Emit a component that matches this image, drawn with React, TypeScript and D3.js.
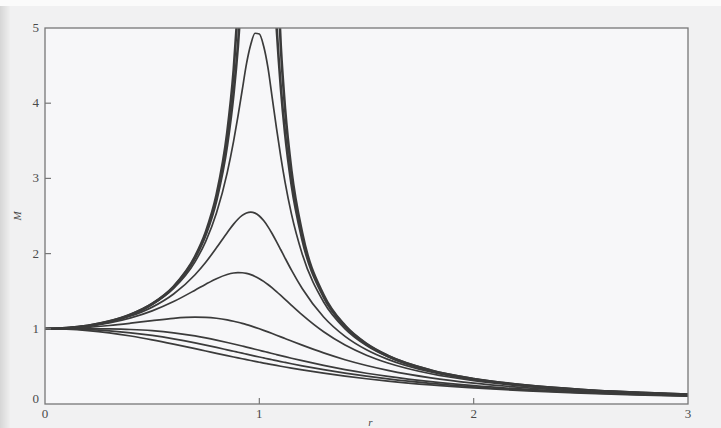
import React from "react";
import * as d3 from "d3";

// frequency ratio r (shared grid)
const rValues = [0, 0.1, 0.2, 0.3, 0.4, 0.5, 0.6, 0.7, 0.75, 0.8, 0.85, 0.88, 0.9, 0.92, 0.94, 0.96, 0.98, 1.0, 1.02, 1.04, 1.06, 1.08, 1.1, 1.12, 1.15, 1.2, 1.3, 1.4, 1.5, 1.6, 1.8, 2.0, 2.25, 2.5, 2.75, 3.0];

// magnification M read for each curve (null = off the top of the chart)
const mZeta0 = [1, 1.0101, 1.0417, 1.0989, 1.1905, 1.3333, 1.5625, 1.9608, 2.2857, 2.7778, 3.6036, 4.4326, 5.2632, null, null, null, null, null, null, null, null, 6.0096, 4.7619, 3.9308, 3.1008, 2.2727, 1.4493, 1.0417, 0.8, 0.641, 0.4464, 0.3333, 0.2462, 0.1905, 0.1524, 0.125];
const mZeta005 = [1, 1.01, 1.0414, 1.0983, 1.1891, 1.3304, 1.5557, 1.9426, 2.2529, 2.7116, 3.4455, 4.1295, 4.7565, 5.585, null, null, null, null, null, null, 6.141, 5.041, 4.218, 3.598, 2.9206, 2.1926, 1.4242, 1.0308, 0.7943, 0.6377, 0.445, 0.3326, 0.2458, 0.1903, 0.1522, 0.1249];
const mZeta01 = [1, 1.0099, 1.0408, 1.0965, 1.1851, 1.3216, 1.5357, 1.8908, 2.1622, 2.5384, 3.0728, 3.4949, 3.8208, 4.1721, 4.5225, 4.78, 4.93, 4.92, 4.76, 4.4756, 4.075, 3.6675, 3.288, 2.9502, 2.5245, 1.9952, 1.3562, 1.0, 0.7779, 0.6279, 0.4408, 0.3304, 0.2447, 0.1896, 0.1518, 0.1247];
const mZeta02 = [1, 1.0093, 1.0381, 1.0895, 1.1695, 1.2883, 1.463, 1.7188, 1.8851, 2.0762, 2.2785, 2.3918, 2.4566, 2.5077, 2.5407, 2.5515, 2.5381, 2.5, 2.4391, 2.3589, 2.2642, 2.1601, 2.0511, 1.941, 1.78, 1.5357, 1.1574, 0.8998, 0.7212, 0.5931, 0.425, 0.3221, 0.2403, 0.1871, 0.1503, 0.1236];
const mZeta03 = [1, 1.0083, 1.0336, 1.078, 1.1447, 1.238, 1.3618, 1.5136, 1.5933, 1.6667, 1.7223, 1.7416, 1.7469, 1.7453, 1.7365, 1.7202, 1.6968, 1.6667, 1.6304, 1.589, 1.5434, 1.4947, 1.4438, 1.3917, 1.3129, 1.1851, 0.9603, 0.7839, 0.6492, 0.5459, 0.4021, 0.3095, 0.2336, 0.1831, 0.1478, 0.122];
const mZeta05 = [1, 1.005, 1.0198, 1.0436, 1.0748, 1.1094, 1.1399, 1.1546, 1.1517, 1.1399, 1.1184, 1.1008, 1.0871, 1.0721, 1.0558, 1.0382, 1.0196, 1.0, 0.9796, 0.9586, 0.937, 0.9151, 0.893, 0.8707, 0.8373, 0.7824, 0.6795, 0.5891, 0.5121, 0.4475, 0.348, 0.2774, 0.2153, 0.172, 0.1405, 0.117];
const mZeta07 = [1, 1.0002, 1.0, 0.9978, 0.9905, 0.9747, 0.9469, 0.9052, 0.8791, 0.85, 0.8184, 0.7984, 0.7848, 0.7709, 0.7569, 0.7428, 0.7286, 0.7143, 0.7, 0.6857, 0.6715, 0.6574, 0.6434, 0.6295, 0.609, 0.5758, 0.5138, 0.4582, 0.4092, 0.3663, 0.2966, 0.2437, 0.1945, 0.1585, 0.1314, 0.1107];
const mZeta08 = [1, 0.9972, 0.9882, 0.972, 0.9469, 0.9119, 0.8667, 0.8126, 0.7829, 0.7521, 0.7204, 0.7013, 0.6885, 0.6757, 0.6629, 0.6502, 0.6376, 0.625, 0.6126, 0.6002, 0.5881, 0.576, 0.5642, 0.5525, 0.5353, 0.5077, 0.4563, 0.4103, 0.3695, 0.3336, 0.2741, 0.228, 0.1842, 0.1515, 0.1266, 0.1072];
const mZeta09 = [1, 0.9938, 0.9753, 0.945, 0.9039, 0.8536, 0.7966, 0.7357, 0.7047, 0.6737, 0.6431, 0.625, 0.6131, 0.6013, 0.5896, 0.5781, 0.5668, 0.5556, 0.5445, 0.5337, 0.523, 0.5125, 0.5022, 0.4921, 0.4773, 0.4536, 0.4099, 0.3708, 0.3361, 0.3053, 0.2539, 0.2134, 0.1743, 0.1446, 0.1217, 0.1036];

const heavySeries = [mZeta0, mZeta005];
const lightSeries = [mZeta01, mZeta02, mZeta03, mZeta05, mZeta07, mZeta08, mZeta09];

const xTicks = [0, 1, 2, 3];
const yTicks = [0, 1, 2, 3, 4, 5];

const W = 721;
const H = 428;
const left = 45;
const right = 688;
const top = 28;
const bottom = 404;

export default function App() {
  const x = d3.scaleLinear().domain([0, 3]).range([left, right]);
  const y = d3.scaleLinear().domain([0, 5]).range([bottom, top]);
  const line = d3
    .line<number | null>()
    .defined((d) => d !== null)
    .x((_, i) => x(rValues[i]))
    .y((d) => y(d as number))
    .curve(d3.curveMonotoneX);

  const serif = "'Liberation Serif', 'DejaVu Serif', serif";
  const lineColor = "#3b3b3b";

  return (
    <svg
      width={W}
      height={H}
      style={{ position: "absolute", left: 0, top: 0, display: "block" }}
    >
      <defs>
        <linearGradient id="edge" x1="0" x2="1" y1="0" y2="0">
          <stop offset="0" stopColor="#d6d6d6" />
          <stop offset="1" stopColor="#efefef" />
        </linearGradient>
        <clipPath id="plotClip">
          <rect x={left} y={top} width={right - left} height={bottom - top} />
        </clipPath>
      </defs>
      <rect x={0} y={0} width={W} height={H} fill="#f1f1f2" />
      <rect x={0} y={0} width={10} height={H} fill="url(#edge)" />
      <rect x={0} y={0} width={W} height={6} fill="#fbfbfb" />
      <rect x={left} y={top} width={right - left} height={bottom - top} fill="#f7f7f9" />

      <g clipPath="url(#plotClip)" fill="none" stroke={lineColor} strokeLinejoin="round">
        {heavySeries.map((s, i) => (
          <path key={"h" + i} d={line(s) || ""} strokeWidth={2.6} />
        ))}
        {lightSeries.map((s, i) => (
          <path key={"l" + i} d={line(s) || ""} strokeWidth={1.7} />
        ))}
      </g>

      <rect
        x={left}
        y={top}
        width={right - left}
        height={bottom - top}
        fill="none"
        stroke="#777"
        strokeWidth={1.3}
      />

      {yTicks.map((t) => (
        <g key={"y" + t}>
          {t > 0 && t < 5 && (
            <line x1={left} x2={left + 6} y1={y(t)} y2={y(t)} stroke="#777" strokeWidth={1.2} />
          )}
          <text
            x={left - 6}
            y={t === 0 ? y(t) - 1 : y(t) + 4}
            textAnchor="end"
            fontFamily={serif}
            fontSize={13}
            fill="#4a4a4a"
          >
            {t}
          </text>
        </g>
      ))}
      {xTicks.map((t) => (
        <g key={"x" + t}>
          {t > 0 && t < 3 && (
            <line x1={x(t)} x2={x(t)} y1={bottom} y2={bottom - 6} stroke="#777" strokeWidth={1.2} />
          )}
          <text
            x={x(t)}
            y={bottom + 14}
            textAnchor="middle"
            fontFamily={serif}
            fontSize={13}
            fill="#4a4a4a"
          >
            {t}
          </text>
        </g>
      ))}
      <text
        transform={`translate(21, ${(top + bottom) / 2}) rotate(-90)`}
        textAnchor="middle"
        fontFamily={serif}
        fontStyle="italic"
        fontSize={11}
        fill="#4a4a4a"
      >
        M
      </text>
      <text
        x={(left + right) / 2 + 4}
        y={426}
        textAnchor="middle"
        fontFamily={serif}
        fontStyle="italic"
        fontSize={11}
        fill="#4a4a4a"
      >
        r
      </text>
    </svg>
  );
}
